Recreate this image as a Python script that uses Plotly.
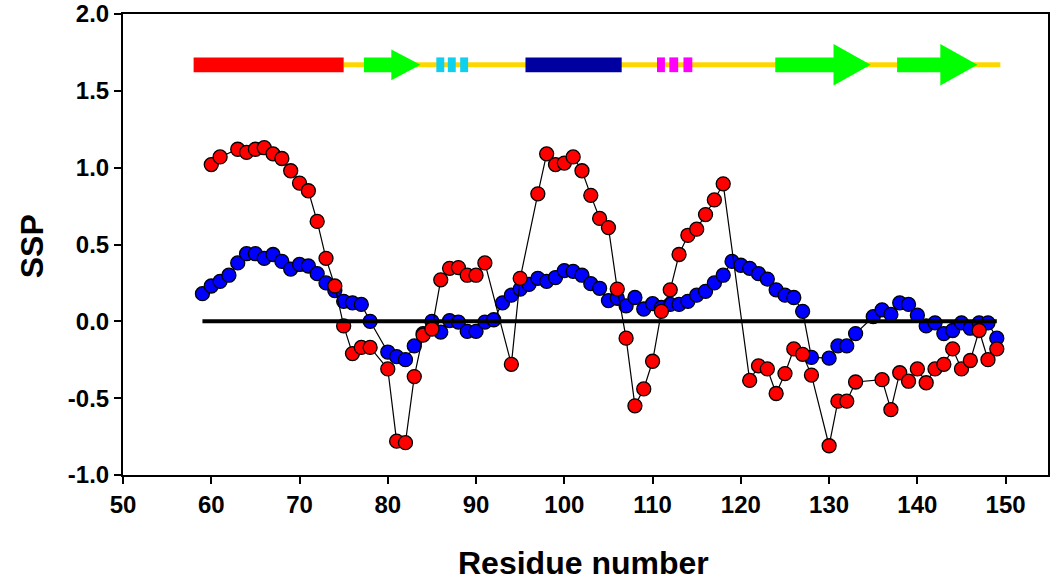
import plotly.graph_objects as go

# ---------------- data ----------------
blue_residues = list(range(59, 79)) + list(range(80, 129)) + list(range(130, 134)) + list(range(135, 150))
blue_ssp = [
    0.18, 0.23, 0.26, 0.30, 0.38, 0.44, 0.44, 0.41, 0.435, 0.39,   # 59-68
    0.34, 0.37, 0.36, 0.31, 0.25, 0.20, 0.13, 0.12, 0.11, 0.00,    # 69-78
    -0.20, -0.23, -0.25, -0.16, -0.08, 0.00, -0.07, 0.005, -0.005, -0.065,  # 80-89
    -0.065, -0.005, 0.01, 0.12, 0.17, 0.21, 0.24, 0.28, 0.26, 0.285,        # 90-99
    0.33, 0.325, 0.30, 0.245, 0.215, 0.135, 0.15, 0.10, 0.155, 0.08,        # 100-109
    0.115, 0.09, 0.11, 0.11, 0.13, 0.17, 0.195, 0.25, 0.30, 0.39,           # 110-119
    0.365, 0.345, 0.31, 0.275, 0.205, 0.17, 0.155, 0.065, -0.235,          # 120-128
    -0.24, -0.16, -0.16, -0.08,                                              # 130-133
    0.03, 0.075, 0.045, 0.12, 0.11, 0.04, -0.03, -0.01, -0.08, -0.06,       # 135-144
    -0.01, -0.045, -0.01, -0.01, -0.11,                                      # 145-149
]

red_residues = ([60, 61] + list(range(63, 79)) + list(range(80, 92)) + [94, 95] + list(range(97, 119))
                + list(range(121, 129)) + list(range(130, 134)) + list(range(136, 150)))
red_ssp = [
    1.02, 1.07,                                                      # 60-61
    1.12, 1.10, 1.12, 1.13, 1.09, 1.06, 0.98, 0.90, 0.85, 0.65,     # 63-72
    0.41, 0.23, -0.03, -0.21, -0.17, -0.17,                          # 73-78
    -0.31, -0.78, -0.79, -0.36, -0.09, -0.05, 0.27, 0.345, 0.35, 0.30,  # 80-89
    0.30, 0.38,                                                      # 90-91
    -0.28, 0.28,                                                     # 94-95
    0.83, 1.09, 1.02, 1.03, 1.07, 0.98, 0.82, 0.67, 0.61, 0.21,     # 97-106
    -0.11, -0.55, -0.44, -0.26, 0.065, 0.205, 0.435, 0.56, 0.60, 0.695,  # 107-116
    0.79, 0.895,                                                     # 117-118
    -0.385, -0.29, -0.31, -0.47, -0.34, -0.18, -0.215, -0.35,        # 121-128
    -0.81, -0.52, -0.52, -0.395,                                     # 130-133
    -0.38, -0.575, -0.335, -0.39, -0.31, -0.40, -0.31, -0.28, -0.18, -0.31,  # 136-145
    -0.255, -0.06, -0.25, -0.18,                                     # 146-149
]

zero_line_x = [59, 149]
zero_line_y = [0, 0]

x_ticks = [50, 60, 70, 80, 90, 100, 110, 120, 130, 140, 150]
y_ticks = [-1.0, -0.5, 0.0, 0.5, 1.0, 1.5, 2.0]

# secondary-structure cartoon (residue ranges)
coil_range = (75.0, 149.4)
helix_red = (58.0, 75.0)
helix_navy = (95.6, 106.5)
cyan_turns = [(85.5, 86.4), (86.8, 87.7), (88.2, 89.1)]
magenta_turns = [(110.5, 111.4), (111.9, 112.9), (113.5, 114.5)]
strands = [  # start, head start, tip, head half-height
    (77.3, 80.4, 83.7, 0.10),
    (123.9, 130.5, 134.7, 0.135),
    (137.7, 142.6, 146.8, 0.135),
]
cartoon_y = 1.67
bar_half = 0.048

# ---------------- figure ----------------
FONT = "Arial, Liberation Sans, sans-serif"
fig = go.Figure()

fig.add_trace(go.Scatter(
    x=blue_residues, y=blue_ssp, mode="lines+markers",
    line=dict(color="black", width=1.2),
    marker=dict(size=14, color="#0000FF", line=dict(color="black", width=1.3)),
    showlegend=False, hoverinfo="x+y"))
fig.add_trace(go.Scatter(
    x=red_residues, y=red_ssp, mode="lines+markers",
    line=dict(color="black", width=1.2),
    marker=dict(size=14, color="#FF0000", line=dict(color="black", width=1.3)),
    showlegend=False, hoverinfo="x+y"))
fig.add_trace(go.Scatter(
    x=zero_line_x, y=zero_line_y, mode="lines",
    line=dict(color="black", width=4), showlegend=False, hoverinfo="skip"))

shapes = []
shapes.append(dict(type="line", xref="x", yref="y", x0=coil_range[0], x1=coil_range[1],
                   y0=cartoon_y, y1=cartoon_y, line=dict(color="#FFD700", width=5)))
def rect(x0, x1, color):
    return dict(type="rect", xref="x", yref="y", x0=x0, x1=x1,
                y0=cartoon_y - bar_half, y1=cartoon_y + bar_half,
                fillcolor=color, line=dict(width=0))
shapes.append(rect(*helix_red, "#FF0000"))
shapes.append(rect(*helix_navy, "#0000A0"))
for a, b in cyan_turns:
    shapes.append(rect(a, b, "#10D0F0"))
for a, b in magenta_turns:
    shapes.append(rect(a, b, "#FF00FF"))
for s, h, t, hh in strands:
    path = (f"M {s},{cartoon_y - bar_half} L {h},{cartoon_y - bar_half} L {h},{cartoon_y - hh} "
            f"L {t},{cartoon_y} L {h},{cartoon_y + hh} L {h},{cartoon_y + bar_half} "
            f"L {s},{cartoon_y + bar_half} Z")
    shapes.append(dict(type="path", xref="x", yref="y", path=path,
                       fillcolor="#00FF00", line=dict(width=0)))

fig.update_layout(
    width=1050, height=581,
    margin=dict(l=123, r=2, t=14, b=106, autoexpand=False),
    paper_bgcolor="white", plot_bgcolor="white",
    shapes=shapes,
    font=dict(family=FONT, color="black"),
    annotations=[
        dict(text="Residue number", xref="paper", yref="paper", x=0.498, y=-0.19,
             xanchor="center", yanchor="middle", showarrow=False,
             font=dict(family=FONT, size=32, color="black", weight="bold")),
        dict(text="SSP", xref="paper", yref="paper", x=-0.099, y=0.497, textangle=-90,
             xanchor="center", yanchor="middle", showarrow=False,
             font=dict(family=FONT, size=32, color="black", weight="bold")),
    ],
)
fig.update_xaxes(
    range=[50, 154.8], tickvals=x_ticks, ticktext=[str(v) for v in x_ticks],
    showgrid=False, zeroline=False, automargin=False,
    showline=True, linecolor="black", linewidth=2, mirror=True,
    ticks="outside", ticklen=7, tickwidth=1.5, tickcolor="black",
    tickfont=dict(family=FONT, size=24, color="black", weight="bold"),
)
fig.update_yaxes(
    range=[-1.0005, 2.0005], tickvals=y_ticks, ticktext=[f"{v:.1f}" for v in y_ticks],
    showgrid=False, zeroline=False, automargin=False, ticklabeloverflow="allow",
    showline=True, linecolor="black", linewidth=2, mirror=True,
    ticks="outside", ticklen=7, tickwidth=1.5, tickcolor="black",
    tickfont=dict(family=FONT, size=24, color="black", weight="bold"),
)

fig.write_html("out.html", config={"displayModeBar": False},
               post_script="document.body.style.margin='0';document.body.style.overflow='hidden';")
